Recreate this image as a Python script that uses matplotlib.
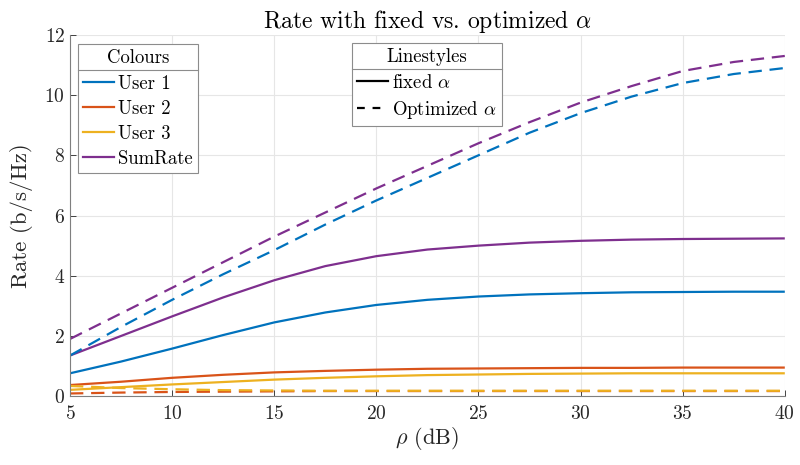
import numpy as np
import matplotlib
matplotlib.use("Agg")
import matplotlib.pyplot as plt
from matplotlib.lines import Line2D

plt.rcParams['font.family'] = ['cmr10', 'DejaVu Serif']
plt.rcParams['mathtext.fontset'] = 'cm'
plt.rcParams['axes.formatter.use_mathtext'] = True
plt.rcParams['axes.unicode_minus'] = False

rho = [5, 7.5, 10, 12.5, 15, 17.5, 20, 22.5, 25, 27.5, 30, 32.5, 35, 37.5, 40]

user1_fixed = [0.76, 1.15, 1.58, 2.03, 2.45, 2.78, 3.03, 3.2, 3.31, 3.38, 3.42, 3.45, 3.46, 3.47, 3.47]
user2_fixed = [0.37, 0.48, 0.61, 0.71, 0.79, 0.84, 0.88, 0.91, 0.92, 0.93, 0.94, 0.94, 0.95, 0.95, 0.95]
user3_fixed = [0.21, 0.3, 0.39, 0.47, 0.55, 0.61, 0.66, 0.7, 0.72, 0.74, 0.75, 0.76, 0.76, 0.76, 0.76]
sum_fixed = [1.35, 2.0, 2.65, 3.28, 3.85, 4.32, 4.65, 4.87, 5.0, 5.1, 5.16, 5.2, 5.22, 5.23, 5.24]

user1_opt = [1.35, 2.3, 3.2, 4.05, 4.85, 5.7, 6.5, 7.25, 8.0, 8.75, 9.4, 9.95, 10.4, 10.7, 10.9]
user2_opt = [0.09, 0.12, 0.14, 0.15, 0.16, 0.17, 0.17, 0.17, 0.17, 0.17, 0.17, 0.17, 0.17, 0.17, 0.17]
user3_opt = [0.34, 0.27, 0.23, 0.2, 0.19, 0.18, 0.18, 0.18, 0.18, 0.18, 0.18, 0.18, 0.18, 0.18, 0.18]
sum_opt = [1.9, 2.75, 3.6, 4.45, 5.3, 6.1, 6.9, 7.65, 8.4, 9.1, 9.75, 10.3, 10.8, 11.1, 11.3]

labels = ['User 1', 'User 2', 'User 3', 'SumRate']
colors = ['#0072BD', '#D95319', '#EDB120', '#7E2F8E']
fixed = [user1_fixed, user2_fixed, user3_fixed, sum_fixed]
opt = [user1_opt, user2_opt, user3_opt, sum_opt]

xticks = [5, 10, 15, 20, 25, 30, 35, 40]
yticks = [0, 2, 4, 6, 8, 10, 12]

fig = plt.figure(figsize=(8, 4.65), dpi=100)
ax = fig.add_axes([0.0875, 0.148, 0.8935, 0.777])

lw = 1.6
for f, c in zip(fixed, colors):
    ax.plot(rho, f, color=c, lw=lw, solid_capstyle='butt', solid_joinstyle='round')
for o, c in zip(opt, colors):
    ax.plot(rho, o, color=c, lw=lw, dashes=(6, 3.5))

ax.set_xlim(5, 40)
ax.set_ylim(0, 12)
ax.set_xticks(xticks)
ax.set_yticks(yticks)
ax.tick_params(direction='in', length=4, width=0.6, labelsize=14, colors='#262626',
               top=False, right=False)
ax.tick_params(axis='x', pad=6)
ax.grid(True, color='#e6e6e6', lw=0.8)
ax.set_axisbelow(True)
for s in ['top', 'right']:
    ax.spines[s].set_visible(False)
for s in ['left', 'bottom']:
    ax.spines[s].set_color('#7f7f7f')
    ax.spines[s].set_linewidth(0.8)

ax.set_xlabel(r'$\rho$ (dB)', fontsize=16, color='#262626', labelpad=2)
ax.set_ylabel('Rate (b/s/Hz)', fontsize=16.5, color='#262626', labelpad=8)
ax.set_title(r'Rate with fixed vs. optimized $\alpha$', fontsize=17, color='#000000', pad=5)

common = dict(borderaxespad=0, fontsize=13.5, title_fontsize=13.5, fancybox=False, framealpha=1,
              edgecolor='#8c8c8c', handlelength=1.65, handletextpad=0.2, borderpad=0.3,
              labelspacing=0.38, loc='upper left')

h1 = [Line2D([], [], color=c, lw=lw) for c in colors]
leg1 = ax.legend(h1, labels, title='Colours', bbox_to_anchor=(0.011, 0.975), **common)
leg1.get_frame().set_linewidth(0.8)
ax.add_artist(leg1)

h2 = [Line2D([], [], color='k', lw=lw), Line2D([], [], color='k', lw=lw, dashes=(3.5, 3.5))]
leg2 = ax.legend(h2, [r'fixed $\alpha$', r'Optimized $\alpha$'], title='Linestyles',
                 bbox_to_anchor=(0.394, 0.978), **common)
leg2.get_frame().set_linewidth(0.8)

fig.canvas.draw()
inv = fig.transFigure.inverted()
for leg in (leg1, leg2):
    fb = leg.get_frame().get_window_extent()
    tb = leg.get_title().get_window_extent()
    y = tb.y0 - 3
    (x0, yy0) = inv.transform((fb.x0, y))
    (x1, _) = inv.transform((fb.x1, y))
    fig.add_artist(Line2D([x0, x1], [yy0, yy0], transform=fig.transFigure, color='#8c8c8c',
                          lw=0.8, zorder=10))

fig.savefig('out.png', dpi=100)
